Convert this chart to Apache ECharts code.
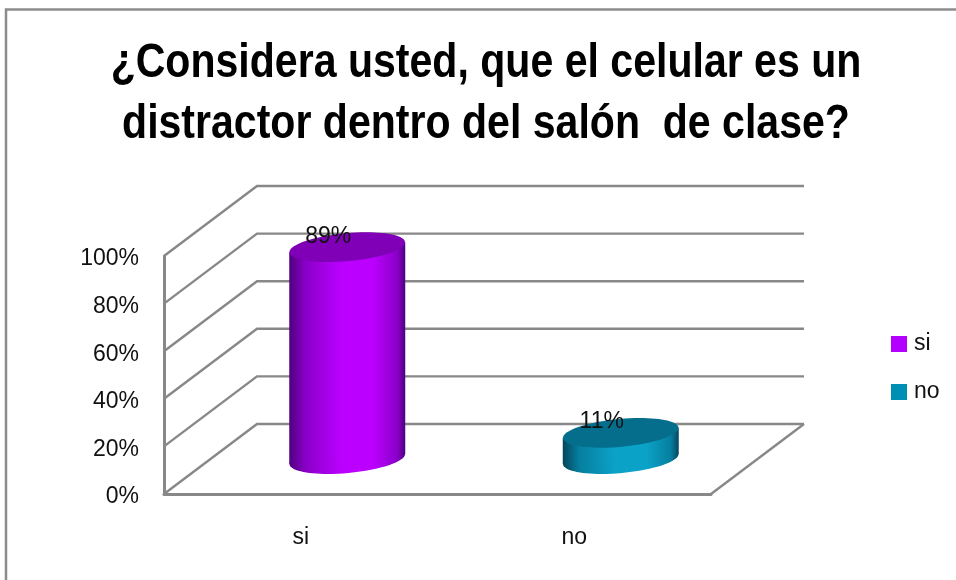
<!DOCTYPE html>
<html>
<head>
<meta charset="utf-8">
<title>Distractor</title>
<script src="https://cdn.jsdelivr.net/npm/echarts@6/dist/echarts.min.js"></script>
<style>
  html, body { margin: 0; padding: 0; background: #fff; }
  #chart { width: 956px; height: 580px; }
</style>
</head>
<body>
<div id="chart"></div>
<script>
const titleText = '¿Considera usted, que el celular es un\ndistractor dentro del salón  de clase?'
const categories = ['si', 'no']
const values = [89, 11]
const yTicks = [0, 20, 40, 60, 80, 100]

// profundidad del efecto 3D en pixeles
const depthX = 93
const depthY = 70
const gridColor = '#888888'
const fontName = '"Liberation Sans", Arial, sans-serif'

const sideGradient = (edge, mid, light) => new echarts.graphic.LinearGradient(0, 0, 1, 0, [
  { offset: 0, color: edge },
  { offset: 0.14, color: mid },
  { offset: 0.45, color: light },
  { offset: 0.72, color: light },
  { offset: 0.93, color: mid },
  { offset: 1, color: edge }
])

const palette = [
  { legend: '#b400ff', side: sideGradient('#50007f', '#8a00c8', '#bb00ff'), top: '#7f00b6' },
  { legend: '#008fb4', side: sideGradient('#04465c', '#067f9f', '#0ba2c8'), top: '#056e8d' }
]

// paredes y piso
const renderWalls = (params, api) => {
  const grid = params.coordSys
  const p = api.coord([0, api.value(1)])
  const y = p[1]
  const children = [{
    type: 'polyline',
    shape: { points: [[grid.x, y], [grid.x + depthX, y - depthY], [grid.x + grid.width + depthX, y - depthY]] },
    style: { stroke: gridColor, lineWidth: 2.4, fill: null }
  }]
  if (api.value(1) === 0) {
    children.push({
      type: 'line',
      shape: { x1: grid.x + grid.width, y1: y, x2: grid.x + grid.width + depthX, y2: y - depthY },
      style: { stroke: gridColor, lineWidth: 2.4 }
    })
  }
  return { type: 'group', children }
}

const renderCylinder = (colors) => (params, api) => {
  const base = api.coord([api.value(0), 0])
  const head = api.coord([api.value(0), api.value(1)])
  const cx = base[0] + depthX / 2
  const yBase = base[1] - depthY / 2
  const yTop = head[1] - depthY / 2
  const rx = 58
  const ry = 14
  const tilt = 0.09
  const drop = 5
  const ellipseAt = (cy, fill) => ({
    type: 'ellipse',
    shape: { cx, cy, rx, ry },
    rotation: tilt,
    originX: cx,
    originY: cy,
    style: { fill }
  })
  return {
    type: 'group',
    children: [
      ellipseAt(yBase, colors.side),
      {
        type: 'polygon',
        shape: { points: [[cx - rx, yTop + drop], [cx - rx, yBase + drop], [cx + rx, yBase - drop], [cx + rx, yTop - drop]] },
        style: { fill: colors.side }
      },
      ellipseAt(yTop, colors.top),
      {
        type: 'text',
        style: {
          x: cx - 19,
          y: yTop - 11,
          text: api.value(1) + '%',
          fill: '#111',
          font: '23px ' + fontName,
          textAlign: 'center',
          textVerticalAlign: 'middle'
        }
      }
    ]
  }
}

const chart = echarts.init(document.getElementById('chart'), null, { renderer: 'canvas' })
chart.setOption({
  animation: false,
  backgroundColor: '#fff',
  legend: {
    data: categories.map(name => ({ name, icon: 'rect' })),
    orient: 'vertical',
    left: 886,
    top: 327,
    itemWidth: 16,
    itemHeight: 16,
    itemGap: 24,
    selectedMode: false,
    textStyle: { fontFamily: fontName, fontSize: 23, color: '#111', lineHeight: 24, padding: [0, 0, 0, 2] }
  },
  grid: { left: 164, top: 256, width: 547, height: 238 },
  xAxis: {
    type: 'category',
    data: categories,
    axisLine: { lineStyle: { color: gridColor, width: 3 } },
    axisTick: { show: false },
    axisLabel: { margin: 32, fontFamily: fontName, fontSize: 23, color: '#111' }
  },
  yAxis: {
    type: 'value',
    min: 0,
    max: 100,
    interval: 20,
    axisLine: { show: true, lineStyle: { color: gridColor, width: 3 } },
    axisTick: { show: false },
    splitLine: { show: false },
    axisLabel: {
      margin: 25,
      formatter: '{tick|{value}%}',
      rich: { tick: { padding: [6, 0, 0, 0], fontFamily: fontName, fontSize: 23, color: '#111' } }
    }
  },
  graphic: [
    {
      type: 'polyline',
      shape: { points: [[6, 580], [6, 9.5], [956, 9.5]] },
      style: { stroke: '#8c8c8c', lineWidth: 2.5, fill: null },
      silent: true
    },
    {
      // el titulo es una letra angosta, no hay Arial Narrow instalada
      type: 'text',
      x: 486,
      y: 33,
      scaleX: 0.838,
      silent: true,
      style: {
        text: titleText,
        font: 'bold 49px ' + fontName,
        lineHeight: 61,
        textAlign: 'center',
        fill: '#000'
      }
    }
  ],
  series: [
    {
      type: 'custom',
      name: 'paredes',
      z: 1,
      clip: false,
      silent: true,
      renderItem: renderWalls,
      data: yTicks.map(t => [0, t])
    },
    ...categories.map((name, i) => ({
      type: 'custom',
      name,
      z: 3,
      clip: false,
      silent: true,
      itemStyle: { color: palette[i].legend },
      renderItem: renderCylinder(palette[i]),
      data: [[i, values[i]]]
    }))
  ]
})
</script>
</body>
</html>
